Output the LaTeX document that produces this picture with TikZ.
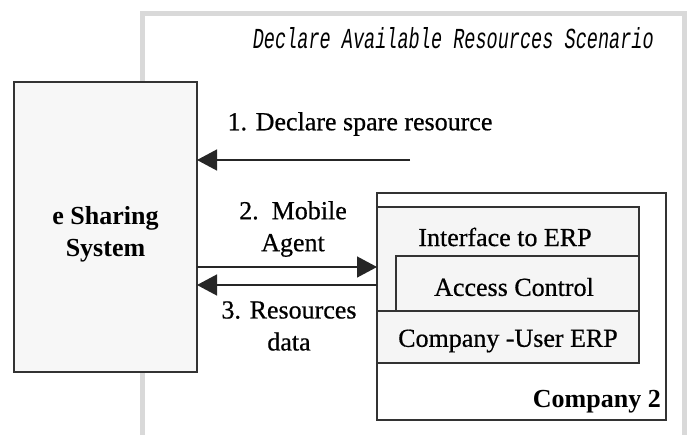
\documentclass[tikz,border=0pt]{standalone}
\usepackage{fontspec}
\setmainfont{Liberation Serif}
\newfontfamily\lblfont[FakeBold=0.6]{Liberation Serif}
\newfontfamily\titlefont[FakeStretch=0.64]{Liberation Mono}
\usetikzlibrary{arrows.meta}

\tikzset{
  box/.style={draw=black!80, line width=1.2pt},
  lbl/.style={font=\fontsize{26}{32}\selectfont\lblfont, align=center, inner sep=0pt},
  blbl/.style={lbl, font=\fontsize{26}{32}\selectfont\bfseries},
  flow/.style={draw=black!85, line width=1.4pt, -{Triangle[length=20pt, width=21pt]}},
}

\begin{document}
\begin{tikzpicture}[x=1pt, y=-1pt]
  \useasboundingbox (0,0) rectangle (687,434);
  \begin{scope}
    \clip (0,0) rectangle (687,434);
    % scenario frame
    \draw[line width=5pt, draw=black!15] (142,13) rectangle (684.5,460);
  \end{scope}
  \node[anchor=east, inner sep=0pt, font=\fontsize{29}{30}\selectfont\titlefont\itshape]
    (title) at (654,38) {Declare Available Resources Scenario};

  % e-sharing system
  \draw[box, fill=black!3] (14,82) rectangle (197,372);
  \node[blbl] (ess) at (105.5,234) {e Sharing\\System};
  \coordinate (essE) at (197,0);

  % company 2 with its layers
  \draw[box, fill=white] (377,193) rectangle (666,420);
  \draw[box, fill=black!4] (377,207) rectangle (639,311);
  \draw[box, fill=black!4] (396,256) rectangle (639,311);
  \draw[box, fill=black!4] (377,311) rectangle (639,363);
  \coordinate (compW) at (377,0);
  \node[lbl] (iface) at (505,237) {Interface to ERP};
  \node[lbl] (acc) at (514,287) {Access Control};
  \node[lbl] (cu) at (508,341) {Company -User ERP};
  \node[blbl, anchor=east] (comp) at (661,402) {Company 2};

  % messages
  \coordinate (m1s) at (410,160);
  \draw[flow] (m1s) -- (essE |- m1s);
  \node[lbl] (m1) at (360,124) {1. Declare spare resource};

  \draw[flow] (essE |- 0,267) -- (compW |- 0,267);
  \node[lbl] (m2) at (293,229) {2.\ \ Mobile\\Agent};

  \draw[flow] (compW |- 0,285) -- (essE |- 0,285);
  \node[lbl] (m3) at (289,326) {3. Resources\\data};
\end{tikzpicture}
\end{document}
